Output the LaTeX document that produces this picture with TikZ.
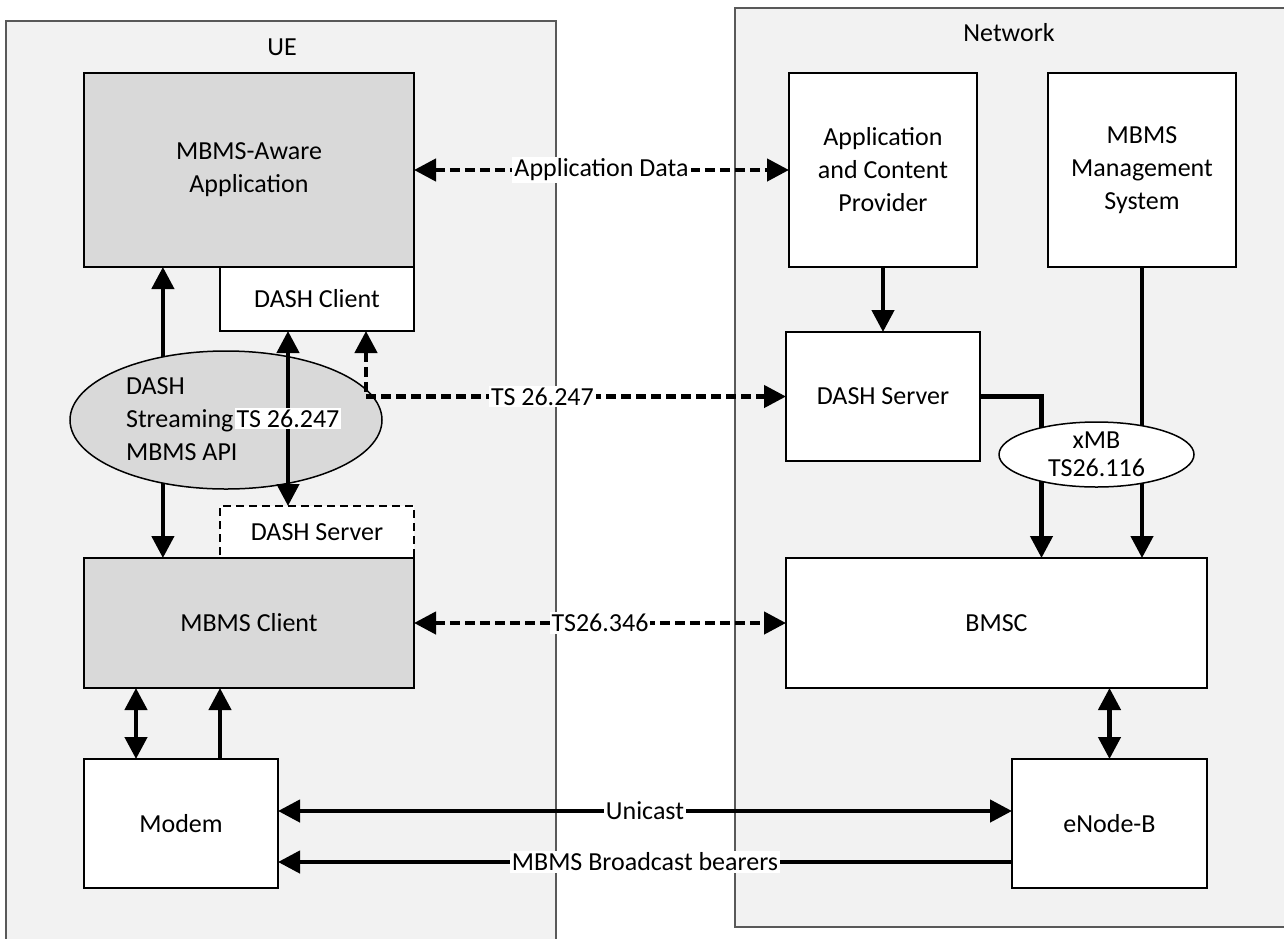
\documentclass[tikz,border=0pt]{standalone}
\usepackage{fontspec}
\setmainfont{Carlito}
\usetikzlibrary{arrows.meta,shapes.geometric,calc}

\newcommand{\figfont}{\fontsize{13}{16.5}\selectfont}
\definecolor{blockgray}{HTML}{D9D9D9}
\definecolor{areagray}{HTML}{F2F2F2}

\tikzset{
  block/.style={draw, line width=0.75pt, fill=white, outer sep=0pt, align=center},
  greyblock/.style={block, fill=blockgray},
  oval/.style={ellipse, draw, line width=0.75pt, outer sep=0pt, inner sep=0pt},
  area/.style={draw=black!65, line width=0.6pt, fill=areagray},
  arr/.style={line width=2.2pt, -{Triangle[length=11pt,width=11pt]}},
  arrboth/.style={line width=2.2pt, {Triangle[length=11pt,width=11pt]}-{Triangle[length=11pt,width=11pt]}},
  dotarr/.style={arrboth, dash pattern=on 5pt off 2.5pt},
  tag/.style={fill=white, inner sep=1pt}
}

\begin{document}
\begin{tikzpicture}[x=0.5pt, y=-0.5pt, every node/.style={font=\figfont}]
\useasboundingbox (0,0) rectangle (1284,938);
\clip (0,0) rectangle (1284,938);
% the two areas
\draw[area] (6,21) rectangle (556,950);
\draw[area] (735,8) rectangle (1300,927);
\node (ue) at (282,47) {UE};
\node (net) at (1009,33) {Network};
% UE side
\node[greyblock, minimum width=165pt, minimum height=97pt] (app) at (249,170) {MBMS-Aware\\Application};
\node[block, minimum width=97pt, minimum height=32pt] (dashcli) at (317,299) {DASH Client};
\node[block, dash pattern=on 4pt off 2.5pt, minimum width=97pt, minimum height=26pt] (dashue) at (317,532) {DASH Server};
\node[greyblock, minimum width=165pt, minimum height=65pt] (mbmsc) at (249,623) {MBMS Client};
\node[block, minimum width=97pt, minimum height=64.5pt] (modem) at (181,823.5) {Modem};
\node[oval, fill=blockgray, minimum width=156pt, minimum height=69pt] (api) at (226,420) {};
\node[anchor=west, align=left] (apitext) at (119,419) {DASH\\Streaming\\MBMS API};
% network side
\node[block, minimum width=94pt, minimum height=97pt] (acp) at (883,170) {Application\\and Content\\Provider};
\node[block, minimum width=94pt, minimum height=97pt] (mgmt) at (1142,170) {MBMS\\Management\\System};
\node[block, minimum width=97pt, minimum height=64.5pt] (dashsrv) at (883,396.5) {DASH Server};
\node[block, minimum width=210.5pt, minimum height=65pt] (bmsc) at (996.5,623) {BMSC};
\node[block, minimum width=97.5pt, minimum height=64.5pt] (enb) at (1109.5,823.5) {eNode-B};
% arrows in the UE
\draw[arr] (api.135) -- (api.135 |- app.south);
\draw[arr] (api.225) -- (api.225 |- mbmsc.north);
\draw[arrboth] ($(dashcli.south)+(-29,0)$) -- ($(dashue.north)+(-29,0)$)
  node[tag, midway] {TS 26.247};
\draw[arrboth] ($(modem.north)+(-45,0)$) -- ($(mbmsc.south)+(-113,0)$);
\draw[arr] ($(modem.north)+(39,0)$) -- ($(mbmsc.south)+(-29,0)$);
% arrows in the network
\draw[arr] (acp.south) -- (dashsrv.north);
\draw[arr] (dashsrv.east) -| ($(bmsc.north)+(45,0)$);
\draw[arr] (mgmt.south) -- (mgmt.south |- bmsc.north);
\draw[arrboth] (enb.north |- bmsc.south) -- (enb.north);
\node[oval, fill=white, align=center, font=\fontsize{13}{14}\selectfont, minimum width=97.5pt, minimum height=32.5pt] (xmb) at (1096.5,454.5) {xMB\\TS26.116};
% between UE and network
\draw[dotarr] (app.east) -- (acp.west) node[tag, midway] {Application Data};
\draw[dotarr] ($(dashcli.south)+(49,0)$) |- (dashsrv.west) node[tag, pos=0.71] {TS 26.247};
\draw[dotarr] (mbmsc.east) -- (bmsc.west) node[tag, midway] {TS26.346};
\draw[arrboth] ($(modem.east)+(0,-12.5)$) -- ($(enb.west)+(0,-12.5)$) node[tag, midway] {Unicast};
\draw[arr] ($(enb.west)+(0,38.5)$) -- ($(modem.east)+(0,38.5)$) node[tag, midway] {MBMS Broadcast bearers};
\end{tikzpicture}
\end{document}
